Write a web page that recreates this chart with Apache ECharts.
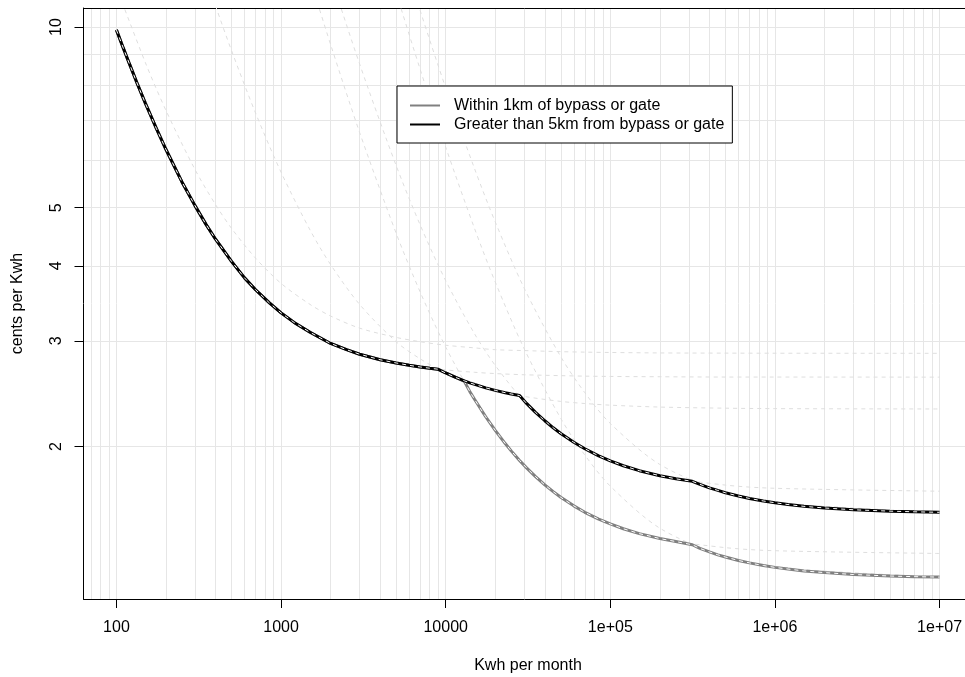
<!DOCTYPE html>
<html>
<head>
<meta charset="utf-8">
<title>cents per Kwh</title>
<script src="https://cdn.jsdelivr.net/npm/echarts@6/dist/echarts.min.js"></script>
<style>
  html, body { margin: 0; padding: 0; background: #fff; }
  #chart { width: 965px; height: 677px; }
</style>
</head>
<body>
<div id="chart"></div>
<script>
// Tariff cost per Kwh against monthly consumption (log-log)
// Solid: cheapest tariff per group, dashed: every single tariff option

// monthly consumption (Kwh) where the two main curves were read
const kwh = [100, 110, 120, 135, 150, 175, 200, 250, 300, 350, 400, 500, 600, 700, 850,
  1000, 1200, 1500, 2000, 2500, 3000, 4000, 5000, 6000, 7000, 8000, 8950,
  10000, 11500, 13000, 14000, 15000, 17500, 20000, 23000, 25000, 28100,
  31000, 35000, 40000, 45000, 50000, 60000, 70000, 85000,
  100000, 120000, 150000, 200000, 250000, 315000,
  350000, 400000, 450000, 500000, 600000, 700000, 850000,
  1000000, 1200000, 1500000, 2000000, 3000000, 5000000, 7000000, 10000000];

// Greater than 5km from bypass or gate (black)
const far5km = [9.89, 9.23, 8.68, 8.00, 7.46, 6.77, 6.25, 5.52, 5.04, 4.69, 4.43, 4.07, 3.82, 3.65, 3.47,
  3.34, 3.22, 3.10, 2.97, 2.90, 2.85, 2.79, 2.756, 2.731, 2.714, 2.701, 2.691,
  2.652, 2.607, 2.573, 2.554, 2.538, 2.505, 2.481, 2.459, 2.447, 2.432,
  2.36, 2.282, 2.208, 2.149, 2.103, 2.033, 1.983, 1.930,
  1.893, 1.858, 1.823, 1.788, 1.767, 1.750,
  1.730, 1.707, 1.690, 1.675, 1.654, 1.639, 1.623,
  1.612, 1.601, 1.590, 1.580, 1.569, 1.561, 1.557, 1.554];

// Within 1km of bypass or gate (gray)
const near1km = [9.89, 9.23, 8.68, 8.00, 7.46, 6.77, 6.25, 5.52, 5.04, 4.69, 4.43, 4.07, 3.82, 3.65, 3.47,
  3.34, 3.22, 3.10, 2.97, 2.90, 2.85, 2.79, 2.756, 2.731, 2.714, 2.701, 2.691,
  2.652, 2.607, 2.567, 2.471, 2.395, 2.242, 2.128, 2.023, 1.967, 1.896,
  1.843, 1.784, 1.726, 1.682, 1.646, 1.593, 1.554, 1.514,
  1.486, 1.459, 1.432, 1.405, 1.389, 1.372,
  1.353, 1.335, 1.320, 1.309, 1.292, 1.280, 1.267,
  1.258, 1.250, 1.241, 1.233, 1.224, 1.217, 1.214, 1.212];

// single tariff options (light dashed curves), read on a coarser grid
const dashKwh = [100, 150, 200, 300, 400, 500, 700, 1000, 1500, 2000, 3000, 5000, 7000,
  10000, 15000, 20000, 30000, 50000, 70000, 100000, 200000, 500000, 1000000, 10000000];

const optA = [11.65, 8.72, 7.26, 5.79, 5.06, 4.62, 4.12, 3.74, 3.45, 3.30, 3.15, 3.04, 2.99,
  2.95, 2.92, 2.90, 2.89, 2.878, 2.873, 2.869, 2.864, 2.862, 2.861, 2.86];
const optB = [9.89, 7.46, 6.25, 5.04, 4.43, 4.07, 3.65, 3.34, 3.095, 2.97, 2.85, 2.756, 2.714,
  2.683, 2.659, 2.646, 2.634, 2.625, 2.620, 2.617, 2.614, 2.611, 2.611, 2.61];
const optC = [null, null, null, 13.7, 10.85, 9.14, 7.19, 5.73, 4.59, 4.02, 3.45, 2.99, 2.80,
  2.65, 2.54, 2.48, 2.424, 2.378, 2.359, 2.344, 2.327, 2.317, 2.313, 2.31];
const optD = [null, null, null, null, null, null, null, null, 15.67, 12.17, 8.68, 5.88, 4.68,
  3.78, 3.08, 2.73, 2.38, 2.10, 1.983, 1.893, 1.788, 1.725, 1.704, 1.685];
const optE = [null, null, null, null, null, null, null, null, 12.03, 9.35, 6.675, 4.535, 3.618,
  2.93, 2.395, 2.128, 1.86, 1.646, 1.554, 1.486, 1.405, 1.357, 1.341, 1.327];
const optF = [null, null, null, null, null, null, null, null, null, null, null, 14.3, 10.65,
  7.92, 5.80, 4.735, 3.67, 2.823, 2.459, 2.185, 1.867, 1.675, 1.612, 1.554];
const optG = [null, null, null, null, null, null, null, null, null, null, 18.2, 11.42, 8.5,
  6.31, 4.61, 3.76, 2.909, 2.228, 1.936, 1.718, 1.462, 1.309, 1.258, 1.212];

// axis ticks / labels / grid lines
const xTicks = [100, 1000, 10000, 100000, 1000000, 10000000];
const xTickLabels = ['100', '1000', '10000', '1e+05', '1e+06', '1e+07'];
const xGrid = [70, 80, 90,
  100, 200, 300, 400, 500, 600, 700, 800, 900,
  1000, 2000, 3000, 4000, 5000, 6000, 7000, 8000, 9000,
  10000, 20000, 30000, 40000, 50000, 60000, 70000, 80000, 90000,
  100000, 200000, 300000, 400000, 500000, 600000, 700000, 800000, 900000,
  1000000, 2000000, 3000000, 4000000, 5000000, 6000000, 7000000, 8000000, 9000000,
  10000000];
const yTicks = [2, 3, 4, 5, 10];
const yGrid = [2, 3, 4, 5, 6, 7, 8, 9, 10];

const FONT = '"Liberation Sans", Arial, Helvetica, sans-serif';
const X_MIN = 63.0957, X_MAX = 15848932;
const Y_MIN = 1.1143, Y_MAX = 10.757;

function pairs(xs, ys) {
  return xs.map(function (x, i) { return [x, ys[i]]; });
}

function dashedOption(ys) {
  return {
    type: 'line',
    data: pairs(dashKwh, ys),
    showSymbol: false,
    smooth: 0.3,
    silent: true,
    lineStyle: { color: '#dedede', width: 1, type: [4, 4] }
  };
}

const chart = echarts.init(document.getElementById('chart'), null, { renderer: 'canvas' });

chart.setOption({
  animation: false,
  backgroundColor: '#fff',
  textStyle: { fontFamily: FONT },
  grid: {
    left: 83.5, top: 8, width: 889, height: 591,
    outerBoundsMode: 'none',   // plot box runs past the right edge, like the reference
    show: false
  },
  legend: {
    data: ['Within 1km of bypass or gate', 'Greater than 5km from bypass or gate'],
    orient: 'vertical',
    left: 397, top: 86,
    icon: 'rect',
    itemWidth: 30, itemHeight: 2, itemGap: 0,
    padding: [10, 8, 9, 13],
    borderColor: '#000', borderWidth: 1, borderRadius: 0,
    backgroundColor: '#fff',
    selectedMode: false,
    textStyle: { fontFamily: FONT, fontSize: 16, color: '#000', lineHeight: 19, padding: [0, 0, 0, 9] }
  },
  xAxis: [{
    type: 'log', min: X_MIN, max: X_MAX,
    name: 'Kwh per month', nameLocation: 'middle', nameGap: 59,
    nameTextStyle: { fontFamily: FONT, fontSize: 16, color: '#000' },
    axisLine: { show: true, onZero: false, lineStyle: { color: '#000', width: 1 } },
    axisTick: { show: true, length: 9, customValues: xTicks, lineStyle: { color: '#000' } },
    axisLabel: {
      customValues: xTicks, margin: 21, fontSize: 16, color: '#000', fontFamily: FONT,
      formatter: function (v) {
        const i = xTicks.indexOf(Math.round(v));
        return i >= 0 ? xTickLabels[i] : '';
      }
    },
    splitLine: { show: false }
  }, {
    // minor vertical grid lines + top edge of the box
    type: 'log', min: X_MIN, max: X_MAX, position: 'top',
    axisLine: { show: true, onZero: false, lineStyle: { color: '#000', width: 1 } },
    axisTick: { show: false, customValues: xGrid },
    axisLabel: { show: false },
    splitLine: { show: true, lineStyle: { color: '#e6e6e6', width: 1 } }
  }],
  yAxis: [{
    type: 'log', min: Y_MIN, max: Y_MAX,
    name: 'cents per Kwh', nameLocation: 'middle', nameGap: 58,
    nameTextStyle: { fontFamily: FONT, fontSize: 16, color: '#000' },
    axisLine: { show: true, onZero: false, lineStyle: { color: '#000', width: 1 } },
    axisTick: { show: true, length: 9, customValues: yTicks, lineStyle: { color: '#000' } },
    axisLabel: {
      customValues: yTicks, margin: 19, rotate: 90, fontSize: 16, color: '#000', fontFamily: FONT,
      formatter: function (v) { return String(Math.round(v)); }
    },
    splitLine: { show: false }
  }, {
    // horizontal grid lines only
    type: 'log', min: Y_MIN, max: Y_MAX, position: 'left',
    axisLine: { show: false },
    axisTick: { show: false, customValues: yGrid },
    axisLabel: { show: false },
    splitLine: { show: true, lineStyle: { color: '#e6e6e6', width: 1 } }
  }],
  series: [
    dashedOption(optA),
    dashedOption(optB),
    dashedOption(optC),
    dashedOption(optD),
    dashedOption(optE),
    dashedOption(optF),
    dashedOption(optG),
    {
      name: 'Within 1km of bypass or gate',
      type: 'line', data: pairs(kwh, near1km), showSymbol: false, silent: true,
      itemStyle: { color: '#808080' },
      lineStyle: { color: '#808080', width: 3 }
    },
    {
      name: 'near-dash',
      type: 'line', data: pairs(kwh, near1km), showSymbol: false, silent: true,
      lineStyle: { color: '#fff', width: 1, type: [4, 4] }
    },
    {
      name: 'Greater than 5km from bypass or gate',
      type: 'line', data: pairs(kwh, far5km), showSymbol: false, silent: true,
      itemStyle: { color: '#000' },
      lineStyle: { color: '#000', width: 3 }
    },
    {
      name: 'far-dash',
      type: 'line', data: pairs(kwh, far5km), showSymbol: false, silent: true,
      lineStyle: { color: '#fff', width: 1, type: [4, 4] }
    }
  ]
});
</script>
</body>
</html>
